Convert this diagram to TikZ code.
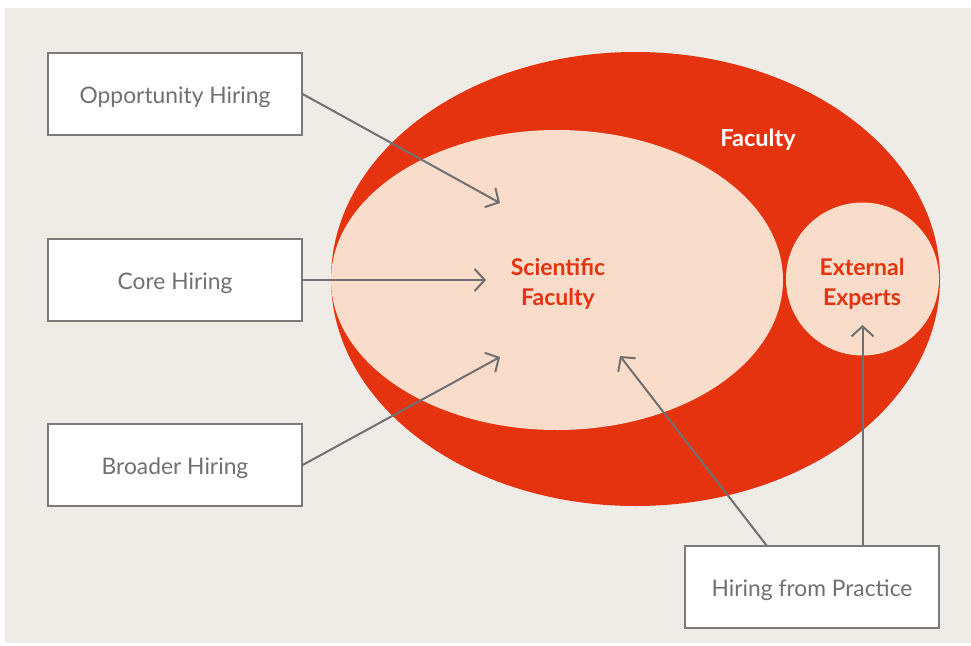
\documentclass[tikz,border=0pt]{standalone}
\usepackage{fontspec}
\setmainfont{Lato}
\usetikzlibrary{arrows.meta,shapes.geometric}
\definecolor{bgc}{HTML}{EFEBE6}
\definecolor{redc}{HTML}{E5330F}
\definecolor{lightc}{HTML}{FADCCB}
\definecolor{greyc}{HTML}{707070}
\definecolor{boxline}{HTML}{7A7A7A}
\tikzset{
  hirebox/.style={draw=boxline, line width=1.2pt, fill=white, minimum width=254pt, minimum height=82pt, inner sep=0pt},
  boxtext/.style={font=\fontsize{22.8}{26}\selectfont, text=greyc, inner sep=0pt},
  flow/.style={draw=greyc, line width=2pt, -{Straight Barb[length=10pt,width=22pt]}},
  redlabel/.style={text=redc, font=\fontsize{23}{30}\selectfont\bfseries, align=center},
}
\begin{document}
\begin{tikzpicture}[x=1pt,y=-1pt]
\useasboundingbox (0,0) rectangle (971,645);
\fill[bgc] (5,8) rectangle (971,643);
% ellipses
\node[draw=none, fill=redc, ellipse, minimum width=609pt, minimum height=454pt, inner sep=0pt] (fac) at (635.5,279) {};
\node[fill=lightc, ellipse, minimum width=452pt, minimum height=300pt, inner sep=0pt] (sci) at (557,280) {};
\node[fill=lightc, circle, minimum size=153pt, inner sep=0pt] (ext) at (862.5,279) {};
\node[text=white, font=\fontsize{23.5}{26}\selectfont\bfseries] (faclab) at (758,140) {Faculty};
\node[redlabel] (scilab) at (558,284) {Scientific\\Faculty};
\node[redlabel] (extlab) at (862,284) {External\\Experts};
% boxes
\node[hirebox] (opp) at (175,94) {};
\node[hirebox] (core) at (175,280) {};
\node[hirebox] (broad) at (175,465) {};
\node[hirebox] (prac) at (812,587) {};
\node[boxtext] (opptext) at ([yshift=-3.5pt]opp.center) {Opportunity Hiring};
\node[boxtext] (coretext) at ([yshift=-3.5pt]core.center) {Core Hiring};
\node[boxtext] (broadtext) at ([yshift=-3.5pt]broad.center) {Broader Hiring};
\node[boxtext] (practext) at ([yshift=-3.5pt]prac.center) {Hiring from Practice};
% target points
\coordinate (t1) at (500,203);
\coordinate (t2) at (486,280);
\coordinate (t3) at (500,357);
\coordinate (t4) at (620,356);
\coordinate (t5) at (862.5,325);
\coordinate (s4) at (767,546);
\coordinate (s5) at (862.5,546);
\draw[flow] (opp.east) -- (t1);
\draw[flow] (core.east) -- (t2);
\draw[flow] (broad.east) -- (t3);
\draw[flow] (s4) -- (t4);
\draw[flow] (s5) -- (t5);
\end{tikzpicture}
\end{document}
